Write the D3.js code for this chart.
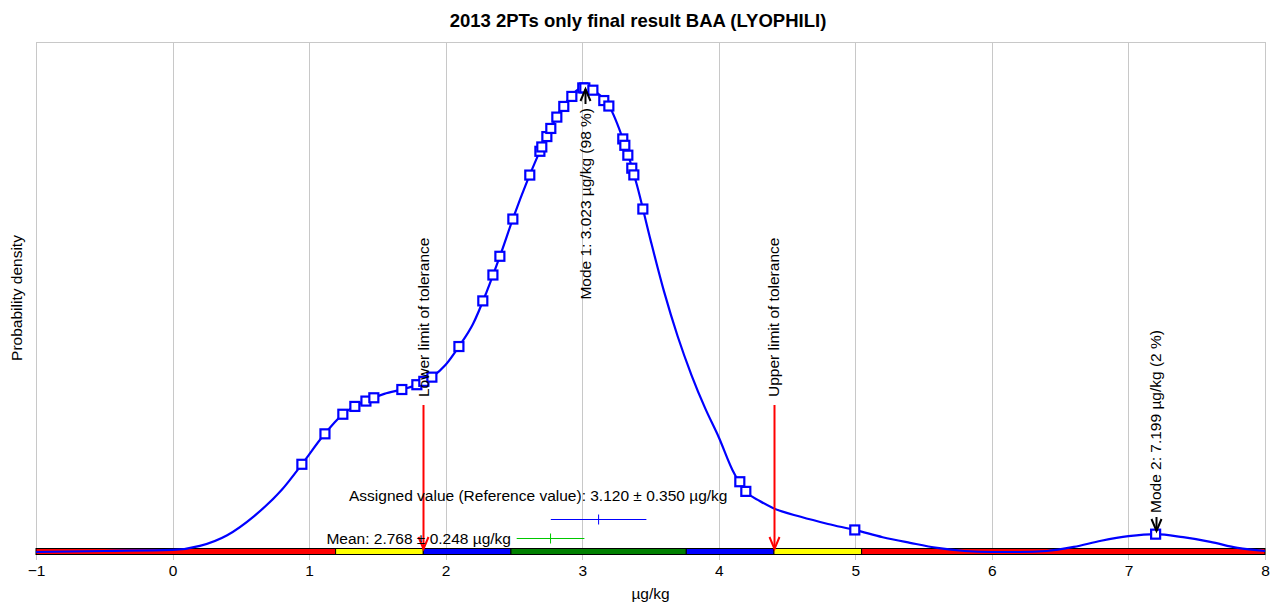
<!DOCTYPE html>
<html>
<head>
<meta charset="utf-8">
<script src="https://cdn.jsdelivr.net/npm/d3@7"></script>
<style>
  body { margin: 0; background: #fff; }
  text { font-family: "Liberation Sans", Arial, sans-serif; fill: #000; }
</style>
</head>
<body>
<div id="chart"></div>
<script>
// Data
var curve_x = [-1, -0.5, 0, 0.2, 0.4, 0.6, 0.8, 0.95, 1.1, 1.25, 1.35, 1.45, 1.55, 1.7, 1.8, 1.9, 2.0, 2.1, 2.2, 2.3, 2.4, 2.5, 2.6, 2.7, 2.8, 2.9, 3.0, 3.05, 3.1, 3.2, 3.3, 3.4, 3.5, 3.6, 3.7, 3.8, 3.9, 4.0, 4.1, 4.2, 4.3, 4.4, 4.6, 4.8, 5.0, 5.2, 5.4, 5.6, 5.8, 6.0, 6.2, 6.4, 6.6, 6.8, 7.0, 7.2, 7.4, 7.6, 7.8, 8.0];
var curve_y = [0, 0.002, 0.004, 0.012, 0.033, 0.071, 0.122, 0.173, 0.227, 0.271, 0.288, 0.300, 0.310, 0.320, 0.329, 0.343, 0.367, 0.404, 0.447, 0.510, 0.582, 0.659, 0.729, 0.792, 0.847, 0.888, 0.910, 0.910, 0.902, 0.873, 0.808, 0.720, 0.612, 0.510, 0.422, 0.347, 0.282, 0.225, 0.161, 0.118, 0.100, 0.086, 0.069, 0.055, 0.043, 0.029, 0.018, 0.008, 0.002, 0, 0, 0.002, 0.010, 0.022, 0.031, 0.035, 0.029, 0.020, 0.008, 0.002];

// individual results
var results = [0.947, 1.116, 1.247, 1.335, 1.416, 1.474, 1.679, 1.789, 1.840, 1.899, 2.097, 2.272, 2.346, 2.397, 2.492, 2.616, 2.690, 2.704, 2.741, 2.770, 2.814, 2.865, 2.924, 3.004, 3.019, 3.078, 3.158, 3.195, 3.297, 3.312, 3.334, 3.363, 3.378, 3.444, 4.154, 4.198, 4.996, 7.199];

// tolerance bands
var band_from  = [-1, 1.194, 1.836, 2.478, 3.762, 4.404, 5.046];
var band_to    = [1.194, 1.836, 2.478, 3.762, 4.404, 5.046, 8];
var band_color = ["#ff0000", "#ffff00", "#0000ff", "#008000", "#0000ff", "#ffff00", "#ff0000"];

var x_ticks = [-1, 0, 1, 2, 3, 4, 5, 6, 7, 8];

var assigned = 3.120, assigned_u = 0.350;
var mean_val = 2.768, mean_u = 0.248;
var lower_limit = 1.836, upper_limit = 4.404;
var mode1 = 3.023, mode2 = 7.199;

var width = 1279, height = 603;
var fs = "15.5px";
var x = d3.scaleLinear().domain([-1, 8]).range([36, 1265]);
var y = d3.scaleLinear().domain([0, 1]).range([552, 42]);

var svg = d3.select("#chart").append("svg")
    .attr("width", width).attr("height", height);

function density_at(v) {
    for (var i = 1; i < curve_x.length; i++) {
	if (v <= curve_x[i]) {
	    var t = (v - curve_x[i-1]) / (curve_x[i] - curve_x[i-1]);
	    return curve_y[i-1] + t * (curve_y[i] - curve_y[i-1]);
	}
    }
    return curve_y[curve_y.length - 1];
}

// title
svg.append("text")
    .attr("x", 638).attr("y", 27)
    .attr("text-anchor", "middle")
    .style("font-size", "18.5px").style("font-weight", "bold")
    .text("2013 2PTs only final result BAA (LYOPHILI)");

// grid + frame
svg.append("g").selectAll("line")
    .data(x_ticks)
    .enter().append("line")
    .attr("x1", d => Math.round(x(d)) + 0.5).attr("x2", d => Math.round(x(d)) + 0.5)
    .attr("y1", 42).attr("y2", 560)
    .attr("stroke", "#c8c8c8").attr("stroke-width", 1);

svg.append("line")
    .attr("x1", 36).attr("x2", 1265).attr("y1", 42.5).attr("y2", 42.5)
    .attr("stroke", "#c8c8c8");

// x axis
var xAxis = d3.axisBottom(x).tickValues(x_ticks).tickSize(0).tickPadding(0).tickFormat(d3.format("d"));
var ax = svg.append("g").attr("transform", "translate(0,565)").call(xAxis);
ax.select(".domain").remove();
ax.selectAll("text").style("font-size", fs).attr("dy", "0.71em")
    .style("font-family", "'Liberation Sans', Arial, sans-serif");

svg.append("text")
    .attr("x", x(3.5)).attr("y", 599)
    .attr("text-anchor", "middle").style("font-size", fs)
    .text("µg/kg");

svg.append("text")
    .attr("transform", "translate(22,298) rotate(-90)")
    .attr("text-anchor", "middle").style("font-size", fs)
    .text("Probability density");

// tolerance band
svg.append("g").selectAll("rect")
    .data(band_from)
    .enter().append("rect")
    .attr("x", (d, i) => x(d))
    .attr("y", 548.5)
    .attr("width", (d, i) => x(band_to[i]) - x(d))
    .attr("height", 6)
    .attr("fill", (d, i) => band_color[i])
    .attr("stroke", "#000").attr("stroke-width", 1);

// density curve
var line = d3.line()
    .x(d => x(d[0])).y(d => y(d[1]))
    .curve(d3.curveMonotoneX);
svg.append("path")
    .datum(curve_x.map((v, i) => [v, curve_y[i]]))
    .attr("d", line)
    .attr("fill", "none").attr("stroke", "#0000ff").attr("stroke-width", 2.2);

// result markers
svg.append("g").selectAll("rect")
    .data(results)
    .enter().append("rect")
    .attr("x", d => x(d) - 4.5)
    .attr("y", d => y(density_at(d)) - 4.5)
    .attr("width", 9).attr("height", 9)
    .attr("fill", "#fff").attr("stroke", "#0000ff").attr("stroke-width", 2.2);

// arrows
function arrow(xv, y0, y1, color) {
    var px = Math.round(x(xv)) + 0.5;
    var dir = y1 > y0 ? 1 : -1;
    svg.append("line")
	.attr("x1", px).attr("x2", px).attr("y1", y0).attr("y2", y1)
	.attr("stroke", color).attr("stroke-width", 2);
    svg.append("path")
	.attr("d", "M" + (px - 5) + "," + (y1 - dir * 12) + "L" + px + "," + y1 + "L" + (px + 5) + "," + (y1 - dir * 12))
	.attr("fill", "none").attr("stroke", color).attr("stroke-width", 2);
}

arrow(lower_limit, 405, 549, "#ff0000");
arrow(upper_limit, 405, 549, "#ff0000");
arrow(mode1, 104, 89, "#000");
arrow(mode2, 517, 531, "#000");

function vtext(xv, yv, anchor, str) {
    svg.append("text")
	.attr("transform", "translate(" + x(xv) + "," + yv + ") rotate(-90)")
	.attr("dominant-baseline", "central")
	.attr("text-anchor", anchor)
	.style("font-size", fs)
	.text(str);
}
vtext(lower_limit, 397, "start", "Lower limit of tolerance");
vtext(upper_limit, 397, "start", "Upper limit of tolerance");
vtext(mode1, 108, "end", "Mode 1: " + mode1.toFixed(3) + " µg/kg (98 %)");
vtext(mode2, 513, "start", "Mode 2: " + mode2.toFixed(3) + " µg/kg (2 %)");

// assigned value & mean
svg.append("text")
    .attr("x", 349).attr("y", 501).style("font-size", fs)
    .text("Assigned value (Reference value): " + assigned.toFixed(3) + " ± " + assigned_u.toFixed(3) + " µg/kg");

function errbar(v, u, yv, color) {
    svg.append("line")
	.attr("x1", x(v - u)).attr("x2", x(v + u)).attr("y1", yv).attr("y2", yv)
	.attr("stroke", color).attr("stroke-width", 1);
    svg.append("line")
	.attr("x1", x(v)).attr("x2", x(v)).attr("y1", yv - 5).attr("y2", yv + 5)
	.attr("stroke", color).attr("stroke-width", 1);
}
errbar(assigned, assigned_u, 519.5, "#0000ff");
errbar(mean_val, mean_u, 538.5, "#00c800");

svg.append("text")
    .attr("x", 511).attr("y", 544).attr("text-anchor", "end").style("font-size", fs)
    .text("Mean: " + mean_val.toFixed(3) + " ± " + mean_u.toFixed(3) + " µg/kg");
</script>
</body>
</html>
